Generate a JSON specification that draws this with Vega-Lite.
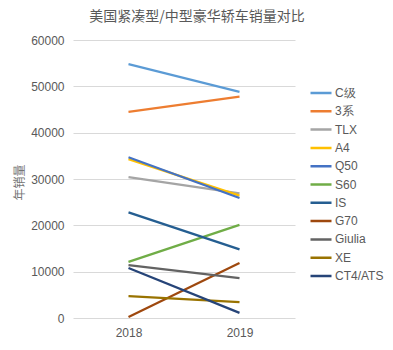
{
  "$schema": "https://vega.github.io/schema/vega-lite/v6.json",
  "autosize": {"type": "none"},
  "width": 222,
  "height": 278,
  "padding": {"left": 73, "top": 40, "right": 98, "bottom": 32},
  "background": "white",
  "title": {
    "text": "美国紧凑型/中型豪华轿车销量对比",
    "font": "Noto Sans CJK SC",
    "fontSize": 14,
    "fontWeight": "normal",
    "color": "#595959",
    "anchor": "middle",
    "frame": "group",
    "dx": 13,
    "offset": 10
  },
  "data": {
    "values": [
      {"model": "C级", "year": "2018", "sales": 54800},
      {"model": "C级", "year": "2019", "sales": 48800},
      {"model": "3系", "year": "2018", "sales": 44500},
      {"model": "3系", "year": "2019", "sales": 47800},
      {"model": "TLX", "year": "2018", "sales": 30400},
      {"model": "TLX", "year": "2019", "sales": 26900},
      {"model": "A4", "year": "2018", "sales": 34300},
      {"model": "A4", "year": "2019", "sales": 26400},
      {"model": "Q50", "year": "2018", "sales": 34700},
      {"model": "Q50", "year": "2019", "sales": 25900},
      {"model": "S60", "year": "2018", "sales": 12100},
      {"model": "S60", "year": "2019", "sales": 20100},
      {"model": "IS", "year": "2018", "sales": 22800},
      {"model": "IS", "year": "2019", "sales": 14800},
      {"model": "G70", "year": "2018", "sales": 200},
      {"model": "G70", "year": "2019", "sales": 11850},
      {"model": "Giulia", "year": "2018", "sales": 11400},
      {"model": "Giulia", "year": "2019", "sales": 8600},
      {"model": "XE", "year": "2018", "sales": 4700},
      {"model": "XE", "year": "2019", "sales": 3450},
      {"model": "CT4/ATS", "year": "2018", "sales": 10800},
      {"model": "CT4/ATS", "year": "2019", "sales": 1100}
    ]
  },
  "mark": {"type": "line", "strokeWidth": 2.25},
  "encoding": {
    "x": {
      "field": "year",
      "type": "ordinal",
      "scale": {"type": "point", "padding": 0.5},
      "axis": {
        "title": null,
        "labelAngle": 0,
        "domain": false,
        "ticks": false,
        "labelPadding": 9,
        "labelFont": "Liberation Sans",
        "labelFontSize": 12,
        "labelColor": "#595959"
      }
    },
    "y": {
      "field": "sales",
      "type": "quantitative",
      "scale": {"domain": [0, 60000], "nice": false},
      "axis": {
        "title": "年销量",
        "titleFont": "Noto Sans CJK SC",
        "titleFontSize": 12,
        "titleFontWeight": "normal",
        "titleColor": "#757575",
        "titleX": -54,
        "titleY": 142,
        "titleAngle": -90,
        "titleAlign": "center",
        "titleBaseline": "middle",
        "values": [0, 10000, 20000, 30000, 40000, 50000, 60000],
        "format": "d",
        "domain": false,
        "ticks": false,
        "grid": true,
        "gridColor": "#D9D9D9",
        "gridWidth": 1,
        "labelPadding": 9,
        "labelFont": "Liberation Sans",
        "labelFontSize": 12,
        "labelColor": "#595959"
      }
    },
    "color": {
      "field": "model",
      "type": "nominal",
      "scale": {
        "domain": ["C级", "3系", "TLX", "A4", "Q50", "S60", "IS", "G70", "Giulia", "XE", "CT4/ATS"],
        "range": ["#5B9BD5", "#ED7D31", "#A5A5A5", "#FFC000", "#4472C4", "#70AD47", "#255E91", "#9E480E", "#636363", "#997300", "#264478"]
      },
      "legend": {
        "title": null,
        "orient": "none",
        "legendX": 236,
        "legendY": 47,
        "symbolType": "stroke",
        "symbolStrokeWidth": 2.5,
        "symbolSize": 441,
        "labelFont": "Liberation Sans",
        "labelFontSize": 12,
        "labelColor": "#595959",
        "labelOffset": 2,
        "rowPadding": 6.3,
        "clipHeight": 12
      }
    }
  },
  "config": {"view": {"stroke": null}}
}
